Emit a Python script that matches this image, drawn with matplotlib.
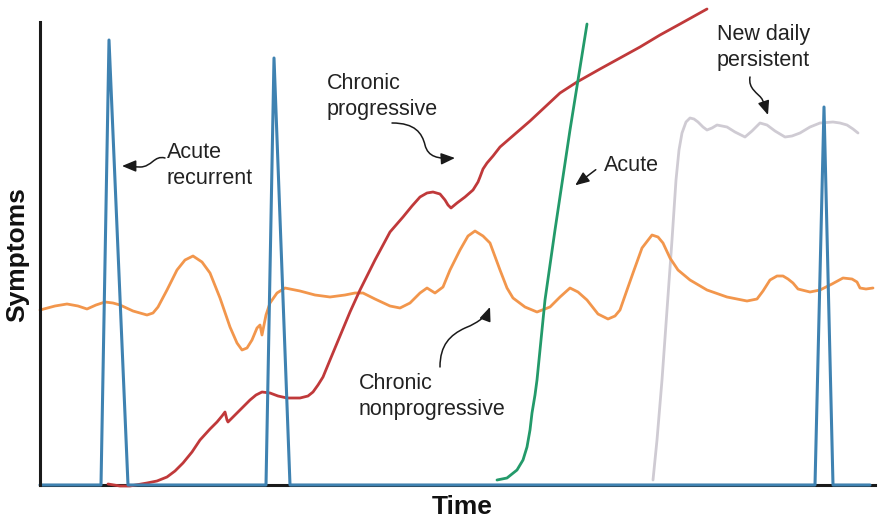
import matplotlib.pyplot as plt
from matplotlib.patches import FancyArrowPatch
from matplotlib.path import Path

plt.rcParams['font.family'] = ['Liberation Sans', 'DejaVu Sans']

# curves as (time, symptom level) points
acute_recurrent = [(0, 0), (61, 0), (69, 445), (88, 0), (226, 0), (234, 427), (250, 0),
                   (775, 0), (784, 378), (793, 0), (830, 0)]

chronic_nonprog = [(0, 175), (15, 179), (27, 181), (38, 179), (47, 176), (56, 180), (65, 183),
                   (73, 182), (80, 180), (93, 174), (107, 170), (113, 172), (118, 178), (127, 195),
                   (137, 215), (145, 225), (153, 229), (162, 223), (170, 212), (180, 187), (190, 158),
                   (197, 142), (202, 135), (207, 137), (212, 145), (217, 157), (220, 160), (222, 150),
                   (226, 170), (230, 182), (237, 192), (245, 197), (260, 194), (275, 190), (290, 188),
                   (305, 190), (315, 192), (323, 192), (335, 186), (350, 179), (360, 177), (370, 182),
                   (380, 192), (387, 197), (395, 192), (403, 198), (410, 215), (420, 235), (428, 249),
                   (435, 254), (443, 249), (450, 242), (460, 215), (467, 197), (473, 187), (485, 178),
                   (497, 173), (510, 178), (520, 188), (530, 197), (538, 193), (547, 185), (558, 171),
                   (568, 166), (575, 169), (580, 175), (587, 195), (593, 212), (602, 237), (612, 250),
                   (618, 248), (623, 242), (630, 227), (638, 215), (650, 205), (667, 195), (687, 188),
                   (707, 184), (717, 186), (723, 194), (730, 205), (737, 209), (743, 209), (748, 206),
                   (753, 202), (758, 196), (770, 193), (780, 195), (792, 201), (803, 207), (812, 206),
                   (817, 203), (820, 197), (826, 196), (833, 197)]

chronic_prog = [(68, 1), (80, -1), (90, -1), (107, 2), (117, 4), (127, 8), (135, 14), (143, 22),
                (152, 33), (160, 45), (170, 56), (177, 63), (182, 69), (185, 73), (187, 65), (188, 63),
                (193, 68), (202, 77), (210, 85), (216, 90), (222, 93), (230, 92), (238, 89), (247, 87),
                (260, 87), (268, 89), (273, 93), (278, 100), (283, 108), (290, 125), (300, 149),
                (310, 173), (320, 195), (335, 225), (350, 253), (363, 268), (372, 279), (380, 288),
                (387, 292), (393, 293), (400, 291), (405, 285), (408, 280), (411, 277), (417, 282),
                (425, 288), (433, 295), (438, 303), (440, 308), (443, 316), (447, 322), (453, 329),
                (460, 338), (475, 351), (490, 364), (505, 378), (520, 392), (537, 403), (560, 416),
                (580, 427), (600, 438), (620, 450), (640, 461), (667, 476)]

acute = [(457, 5), (467, 7), (477, 15), (483, 25), (487, 38), (490, 55), (492, 72), (495, 90),
         (497, 105), (505, 185), (515, 255), (530, 355), (547, 461)]

new_daily = [(613, 5), (617, 45), (622, 105), (627, 175), (632, 245), (636, 305), (639, 335),
             (642, 352), (646, 363), (650, 367), (654, 366), (658, 363), (663, 358), (667, 355),
             (672, 357), (677, 360), (682, 359), (687, 358), (695, 353), (705, 348), (712, 354),
             (720, 362), (727, 360), (735, 354), (745, 348), (752, 349), (760, 352), (770, 358),
             (780, 362), (793, 363), (800, 362), (807, 360), (813, 356), (818, 352)]

W, H = 882, 520
fig = plt.figure(figsize=(W / 100, H / 100), dpi=100)
ax = fig.add_axes([40 / W, 35 / H, 835 / W, 463 / H])
ax.set_xlim(0, 835)
ax.set_ylim(0, 463)


def draw(pts, color, lw=2.0):
    xs = [p[0] for p in pts]
    ys = [p[1] for p in pts]
    ax.plot(xs, ys, color=color, lw=lw, clip_on=False, solid_joinstyle='round',
            solid_capstyle='round')


draw(new_daily, '#cfcbd3')
draw(chronic_nonprog, '#f2964c')
draw(chronic_prog, '#c0393a')
draw(acute, '#239a6a')
draw(acute_recurrent, '#3f82b1', lw=2.2)

for side in ['top', 'right']:
    ax.spines[side].set_visible(False)
for side in ['left', 'bottom']:
    ax.spines[side].set_linewidth(2.2)
    ax.spines[side].set_color('#1a1a1a')
ax.spines['bottom'].set_zorder(0)
ax.set_xticks([])
ax.set_yticks([])

fs = 15.5
txt = dict(fontsize=fs, color='#222222', ha='left', va='top', linespacing=1.3)
ax.text(127, 343, 'Acute\nrecurrent', **txt)
ax.text(287, 412, 'Chronic\nprogressive', **txt)
ax.text(677, 461, 'New daily\npersistent', **txt)
ax.text(564, 330, 'Acute', **txt)
ax.text(319, 112, 'Chronic\nnonprogressive', **txt)

# curly pointer arrows
arrows = [
    [(125, 327), (114, 330), (112, 318), (100, 318), (95, 318), (88, 319), (82, 319)],
    [(352, 362), (375, 362), (382, 352), (385, 340), (388, 328), (398, 326), (415, 327)],
    [(400, 118), (400, 140), (410, 150), (425, 157), (440, 163), (447, 170), (450, 178)],
    [(710, 408), (708, 396), (718, 392), (722, 386), (724, 382), (726, 376), (728, 370)],
]
for a in arrows:
    codes = [Path.MOVETO] + [Path.CURVE4] * (len(a) - 1)
    ax.add_patch(FancyArrowPatch(path=Path(a, codes), arrowstyle='-|>,head_length=0.6,head_width=0.25',
                                 mutation_scale=14, color='#1a1a1a', lw=1.1, clip_on=False))
ax.add_patch(FancyArrowPatch((558, 317), (533, 298), arrowstyle='-|>,head_length=0.6,head_width=0.25',
                             mutation_scale=14, color='#1a1a1a', lw=1.1, clip_on=False))

fig.text(17 / W, 1 - 255 / H, 'Symptoms', rotation=90, fontsize=19, fontweight='bold',
         ha='center', va='center', color='#111111')
fig.text(462 / W, 1 - 507 / H, 'Time', fontsize=19, fontweight='bold',
         ha='center', va='center', color='#111111')

fig.savefig('out.png', dpi=100)
